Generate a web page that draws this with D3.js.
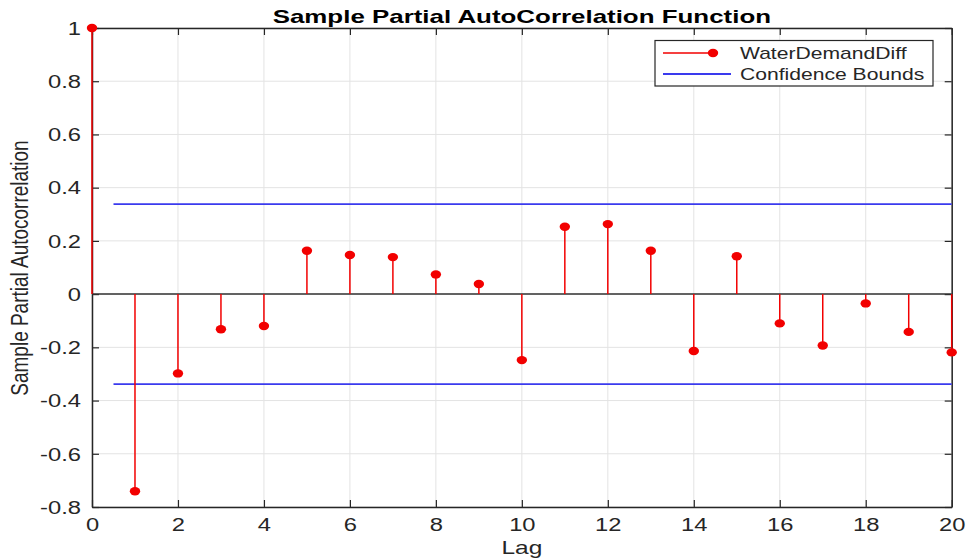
<!DOCTYPE html>
<html><head><meta charset="utf-8">
<script src="https://cdn.jsdelivr.net/npm/d3@7"></script>
<style>body{margin:0;background:#fff}svg{display:block}text{font-family:"Liberation Sans",Arial,sans-serif}</style>
</head><body><svg id="c" width="966" height="560"></svg>
<script>
const lags = [0,1,2,3,4,5,6,7,8,9,10,11,12,13,14,15,16,17,18,19,20];
const pacf = [1,-0.741,-0.298,-0.132,-0.120,0.163,0.147,0.139,0.074,0.038,-0.248,0.253,0.263,0.163,-0.214,0.142,-0.110,-0.193,-0.035,-0.142,-0.219];
const bound = 0.338;
const xTicks = [0,2,4,6,8,10,12,14,16,18,20];
const yTicks = [-0.8,-0.6,-0.4,-0.2,0,0.2,0.4,0.6,0.8,1];
const seriesName = "WaterDemandDiff";
const boundName = "Confidence Bounds";
const title = "Sample Partial AutoCorrelation Function";
const xLabel = "Lag";
const yLabel = "Sample Partial Autocorrelation";

const svg = d3.select("#c");
const L=92, R=951.7, T=28, B=507;
const x = d3.scaleLinear().domain([0,20]).range([L,R]);
const y = d3.scaleLinear().domain([-0.8,1]).range([B,T]);
const axCol="#262626", gridCol="#e3e3e3";
const SX = 1.32;

// grid
svg.append("g").selectAll("line").data(xTicks).join("line")
  .attr("x1",d=>x(d)).attr("x2",d=>x(d)).attr("y1",T).attr("y2",B)
  .attr("stroke",gridCol).attr("stroke-width",1);
svg.append("g").selectAll("line").data(yTicks).join("line")
  .attr("y1",d=>y(d)).attr("y2",d=>y(d)).attr("x1",L).attr("x2",R)
  .attr("stroke",gridCol).attr("stroke-width",1);

// axes (MATLAB style, ticks inward)
const tl = 7;
const gB = svg.append("g").attr("transform",`translate(0,${B})`).call(d3.axisBottom(x).tickValues(xTicks).tickSizeInner(-tl).tickSizeOuter(0).tickPadding(11).tickFormat(d=>String(d)));
const gT = svg.append("g").attr("transform",`translate(0,${T})`).call(d3.axisTop(x).tickValues(xTicks).tickSizeInner(-tl).tickSizeOuter(0).tickFormat(""));
const gL = svg.append("g").attr("transform",`translate(${L},0)`).call(d3.axisLeft(y).tickValues(yTicks).tickSizeInner(-tl).tickSizeOuter(0).tickPadding(11).tickFormat(d=>String(+d.toFixed(1))));
const gR = svg.append("g").attr("transform",`translate(${R},0)`).call(d3.axisRight(y).tickValues(yTicks).tickSizeInner(-tl).tickSizeOuter(0).tickFormat(""));
[gB,gT,gL,gR].forEach(g=>{
  g.select(".domain").attr("stroke",axCol).attr("stroke-width",1.5);
  g.selectAll(".tick line").attr("stroke",axCol).attr("stroke-width",1.2);
  g.selectAll("text").attr("fill",axCol).style("font-size","18px").style("font-family","'Liberation Sans',Arial,sans-serif");
});
gB.selectAll("text").attr("transform",`scale(${SX},1)`);
gL.selectAll("text").attr("x",0).attr("dy","0.35em").attr("transform",`translate(-11,0) scale(${SX},1)`);

// zero baseline
svg.append("line").attr("x1",L).attr("x2",R).attr("y1",y(0)).attr("y2",y(0)).attr("stroke","#333").attr("stroke-width",1.5);

// confidence bounds
[bound,-bound].forEach(b=>{
  svg.append("line").attr("x1",x(0.5)).attr("x2",x(20)).attr("y1",y(b)).attr("y2",y(b))
    .attr("stroke","#3a3aee").attr("stroke-width",1.8);
});

// stems
const red="#f20000";
svg.append("g").selectAll("line").data(lags).join("line")
  .attr("x1",d=>x(d)).attr("x2",d=>x(d)).attr("y1",y(0)).attr("y2",(d,i)=>y(pacf[i]))
  .attr("stroke",red).attr("stroke-width",1.5);
svg.append("g").selectAll("ellipse").data(lags).join("ellipse")
  .attr("cx",d=>x(d)).attr("cy",(d,i)=>y(pacf[i])).attr("rx",5.2).attr("ry",4.2)
  .attr("fill",red);

// title & labels
svg.append("text").attr("transform",`translate(${(L+R)/2},22.5) scale(1.44,1)`).attr("text-anchor","middle")
  .style("font-size","18px").style("font-weight","bold").attr("fill","#000").text(title);
svg.append("text").attr("transform",`translate(${(L+R)/2},554) scale(1.36,1)`).attr("text-anchor","middle")
  .style("font-size","18px").attr("fill",axCol).text(xLabel);
svg.append("text").attr("transform",`translate(28,268) rotate(-90) scale(1,1.3)`).attr("text-anchor","middle")
  .style("font-size","19px").attr("fill",axCol).text(yLabel);

// legend
const lg = svg.append("g");
lg.append("rect").attr("x",655).attr("y",40.5).attr("width",278).attr("height",45.5)
  .attr("fill","#fff").attr("stroke",axCol).attr("stroke-width",1.2);
lg.append("line").attr("x1",663).attr("x2",713).attr("y1",53).attr("y2",53).attr("stroke",red).attr("stroke-width",1.5);
lg.append("ellipse").attr("cx",713).attr("cy",53).attr("rx",5.2).attr("ry",4.2).attr("fill",red);
lg.append("line").attr("x1",663).attr("x2",731).attr("y1",74).attr("y2",74).attr("stroke","#3a3aee").attr("stroke-width",1.8);
lg.append("text").attr("transform",`translate(740,53) scale(${SX},1)`).attr("dy","0.35em").style("font-size","16px").attr("fill",axCol).text(seriesName);
lg.append("text").attr("transform",`translate(740,74) scale(${SX},1)`).attr("dy","0.35em").style("font-size","16px").attr("fill",axCol).text(boundName);
</script></body></html>
